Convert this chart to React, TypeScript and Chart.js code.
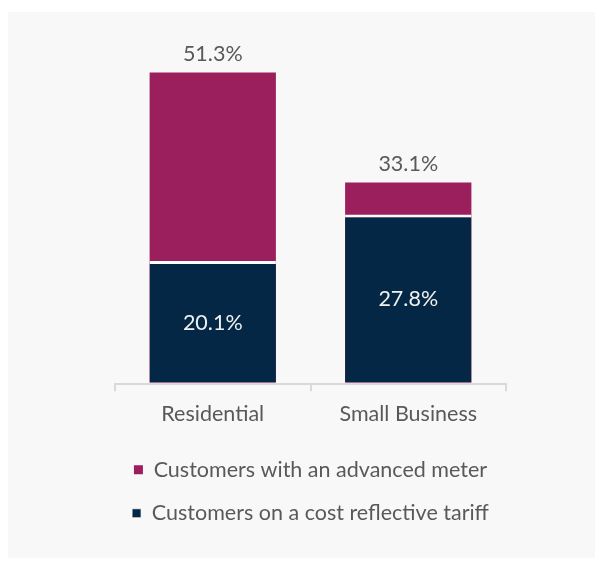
import React, { useEffect, useRef } from "react";
import { Chart, registerables } from "chart.js";

Chart.register(...registerables);

const categories = ["Residential", "Small Business"];
const tariffValues = [20.1, 27.8];
const meterValues = [51.3, 33.1];
const seriesNames = ["Customers with an advanced meter", "Customers on a cost reflective tariff"];

const MAGENTA = "#9B1F5C";
const NAVY = "#042745";
const TEXT = "#595959";
const AXIS = "#D9D9D9";
const FONT = "Lato, 'Open Sans', sans-serif";
const FS = 21.5;

const labelPlugin = {
  id: "valueLabels",
  afterDatasetsDraw(chart: any) {
    const ctx = chart.ctx;
    ctx.save();
    ctx.font = `${FS}px ${FONT}`;
    ctx.textAlign = "center";
    ctx.textBaseline = "middle";
    chart.data.datasets.forEach((ds: any, di: number) => {
      const meta = chart.getDatasetMeta(di);
      meta.data.forEach((bar: any, i: number) => {
        const v = ds.data[i];
        const txt = v.toFixed(1) + "%";
        if (ds.kind === "meter") {
          ctx.fillStyle = TEXT;
          ctx.fillText(txt, bar.x, bar.y - 18);
        } else {
          ctx.fillStyle = "#F0F0F0";
          ctx.fillText(txt, bar.x, (bar.y + bar.base) / 2 + 1);
        }
      });
    });
    ctx.restore();
  },
};

export default function App() {
  const ref = useRef<HTMLCanvasElement | null>(null);
  useEffect(() => {
    if (!ref.current) return;
    const chart = new Chart(ref.current, {
      type: "bar",
      data: {
        labels: categories,
        datasets: [
          {
            label: seriesNames[1],
            kind: "tariff",
            data: tariffValues,
            backgroundColor: NAVY,
            borderColor: "#FFFFFF",
            borderWidth: { top: 3, left: 0, right: 0, bottom: 0 },
            borderSkipped: false,
            barPercentage: 0.646,
            categoryPercentage: 1,
          } as any,
          {
            label: seriesNames[0],
            kind: "meter",
            data: meterValues,
            backgroundColor: MAGENTA,
            borderWidth: 0,
            barPercentage: 0.646,
            categoryPercentage: 1,
          } as any,
        ],
      },
      options: {
        animation: false,
        responsive: false,
        maintainAspectRatio: false,
        layout: { padding: { left: 107, right: 90, top: 32, bottom: 24 } },
        plugins: {
          tooltip: { enabled: false },
          legend: {
            display: true,
            position: "bottom",
            reverse: true,
            labels: {
              boxWidth: 9,
              boxHeight: 9,
              padding: 22,
              color: TEXT,
              font: { family: FONT, size: FS },
            },
          },
        },
        scales: {
          x: {
            stacked: true,
            offset: true,
            border: { display: true, color: AXIS, width: 2 },
            grid: {
              display: true,
              drawOnChartArea: false,
              drawTicks: true,
              tickLength: 7,
              color: AXIS,
              lineWidth: 2,
              offset: true,
            },
            ticks: {
              color: TEXT,
              padding: 10,
              font: { family: FONT, size: FS },
            },
          },
          y: {
            stacked: false,
            display: false,
            min: -0.3,
            max: 56,
          },
        },
      },
      plugins: [labelPlugin],
    });
    return () => chart.destroy();
  }, []);
  return (
    <div style={{ paddingTop: 4 }}>
      <div style={{ width: 588, height: 546, background: "#F8F8F8" }}>
        <canvas ref={ref} width={588} height={546} style={{ display: "block" }} />
      </div>
    </div>
  );
}
